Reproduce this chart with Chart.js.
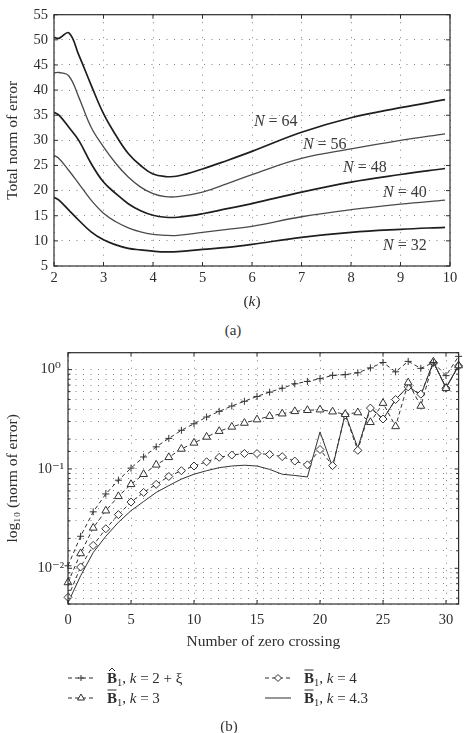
<!DOCTYPE html>
<html>
<head>
<meta charset="utf-8">
<script src="https://cdn.jsdelivr.net/npm/chart.js@4.4.1/dist/chart.umd.min.js"></script>
<style>
  html, body { margin: 0; padding: 0; background: #fff; }
  #page { position: relative; width: 465px; height: 733px; font-family: 'Liberation Serif', 'DejaVu Serif', serif; color: #333; }
  .box { position: absolute; left: 0; width: 465px; }
  .cap { position: absolute; font-size: 15px; line-height: 18px; transform: translateX(-50%); }
</style>
</head>
<body>
<div id="page">
  <div class="box" style="top:0;height:311px"><canvas id="chartA"></canvas></div>
  <div class="cap" style="left:233px;top:321px">(a)</div>
  <div class="box" style="top:340px;height:380px"><canvas id="chartB"></canvas></div>
  <div class="cap" style="left:229px;top:717px">(b)</div>
</div>
<script>
// ---- (a) total norm of error vs k, one curve per N ----
const kValues = [2, 2.1, 2.3, 2.5, 2.75, 3, 3.25, 3.5, 3.75, 4, 4.25, 4.5, 5, 5.5, 6, 7, 8, 9, 9.9];
const errN64 = [50.5, 50.3, 51.4, 47.0, 41.0, 35.3, 31.0, 27.4, 25.0, 23.3, 22.8, 22.9, 24.3, 26.0, 27.8, 31.6, 34.5, 36.5, 38.1];
const errN56 = [43.4, 43.5, 42.8, 38.6, 32.6, 28.7, 25.4, 22.7, 20.7, 19.4, 18.8, 18.8, 19.7, 21.4, 23.2, 26.4, 28.3, 30.0, 31.3];
const errN48 = [35.6, 35.0, 32.6, 30.0, 25.4, 21.7, 19.4, 17.4, 16.0, 15.1, 14.7, 14.7, 15.4, 16.4, 17.4, 19.7, 21.7, 23.2, 24.4];
const errN40 = [27.0, 26.4, 24.0, 21.4, 18.1, 15.5, 13.8, 12.6, 11.8, 11.3, 11.1, 11.1, 11.7, 12.3, 12.9, 14.8, 16.2, 17.3, 18.1];
const errN32 = [18.7, 18.1, 16.1, 14.1, 11.8, 10.2, 9.2, 8.5, 8.2, 7.95, 7.8, 7.85, 8.3, 8.7, 9.3, 10.7, 11.7, 12.3, 12.7];
const nLabels = ['N = 64', 'N = 56', 'N = 48', 'N = 40', 'N = 32'];
// where each N label sits, in data units
const labelK = [6.48, 7.47, 8.28, 9.09, 9.09];
const labelErr = [33.6, 29.2, 24.6, 19.5, 9.0];

// ---- (b) log10 norm of error vs number of zero crossings ----
const crossings = [0, 1, 2, 3, 4, 5, 6, 7, 8, 9, 10, 11, 12, 13, 14, 15, 16, 17, 18, 19, 20, 21, 22, 23, 24, 25, 26, 27, 28, 29, 30, 31];
const errHatK2xi = [0.0106, 0.021, 0.037, 0.056, 0.077, 0.102, 0.132, 0.167, 0.203, 0.245, 0.285, 0.333, 0.38, 0.43, 0.48, 0.537, 0.593, 0.65, 0.72, 0.76, 0.81, 0.875, 0.89, 0.93, 1.04, 1.18, 0.95, 1.21, 1.03, 1.18, 0.87, 1.36];
const errBarK3 = [0.0072, 0.0141, 0.0255, 0.038, 0.053, 0.070, 0.0885, 0.11, 0.131, 0.159, 0.183, 0.21, 0.24, 0.265, 0.29, 0.314, 0.34, 0.36, 0.38, 0.39, 0.395, 0.377, 0.355, 0.37, 0.295, 0.46, 0.268, 0.74, 0.43, 1.2, 0.65, 1.1];
const errBarK4 = [0.0051, 0.0103, 0.017, 0.025, 0.0347, 0.0464, 0.058, 0.070, 0.084, 0.096, 0.107, 0.118, 0.131, 0.138, 0.143, 0.143, 0.140, 0.133, 0.120, 0.11, 0.157, 0.108, 0.35, 0.154, 0.41, 0.318, 0.50, 0.67, 0.566, 1.18, 0.65, 1.09];
const errBarK43 = [0.0045, 0.0084, 0.0144, 0.021, 0.029, 0.038, 0.047, 0.058, 0.068, 0.079, 0.0885, 0.096, 0.103, 0.107, 0.109, 0.107, 0.099, 0.0885, 0.086, 0.083, 0.236, 0.104, 0.36, 0.163, 0.42, 0.316, 0.50, 0.68, 0.55, 1.2, 0.66, 1.1];
const legendK = ['2 + ξ', '3', '4', '4.3'];
const legendAccent = ['hat', 'bar', 'bar', 'bar'];
const yTickValues = [0.01, 0.1, 1];
const yTickText = ['10⁻²', '10⁻¹', '10⁰'];

const serif = "'Liberation Serif', 'DejaVu Serif', serif";
const ink = '#2d2d2d';
const dotGrid = { color: '#808080', lineWidth: 1, drawTicks: false };
const dotBorder = { display: false, dash: [1, 6.5] };
const tickFont = { family: serif, size: 14.5 };
const titleFont = { family: serif, size: 15.5 };

// box round the plot with short inward ticks, matlab style
const framePlugin = {
    id: 'frame',
    afterDatasetsDraw(chart) {
        const { ctx, chartArea: a, scales: { x, y } } = chart;
        ctx.save();
        ctx.setLineDash([]);
        ctx.strokeStyle = ink;
        ctx.lineWidth = 1.2;
        ctx.strokeRect(a.left, a.top, a.right - a.left, a.bottom - a.top);
        ctx.lineWidth = 1;
        ctx.beginPath();
        x.ticks.forEach(t => {
            const px = x.getPixelForValue(t.value);
            ctx.moveTo(px, a.bottom); ctx.lineTo(px, a.bottom - 4);
            ctx.moveTo(px, a.top); ctx.lineTo(px, a.top + 4);
        });
        y.ticks.forEach(t => {
            const py = y.getPixelForValue(t.value);
            const len = t.label === '' ? 2.5 : 4;
            ctx.moveTo(a.left, py); ctx.lineTo(a.left + len, py);
            ctx.moveTo(a.right, py); ctx.lineTo(a.right - len, py);
        });
        ctx.stroke();
        ctx.restore();
    }
};

const curveLabels = {
    id: 'curveLabels',
    afterDatasetsDraw(chart) {
        const { ctx, chartArea: a, scales: { x, y } } = chart;
        ctx.save();
        ctx.fillStyle = '#3a3a3a';
        ctx.textBaseline = 'middle';
        nLabels.forEach((txt, i) => {
            const cx = x.getPixelForValue(labelK[i]);
            const cy = y.getPixelForValue(labelErr[i]);
            const head = txt.slice(0, 1), tail = txt.slice(1);
            ctx.font = 'italic 16px ' + serif;
            const w1 = ctx.measureText(head).width;
            ctx.font = '16px ' + serif;
            const w2 = ctx.measureText(tail).width;
            const sx = cx - (w1 + w2) / 2;
            ctx.font = 'italic 16px ' + serif;
            ctx.fillText(head, sx, cy);
            ctx.font = '16px ' + serif;
            ctx.fillText(tail, sx + w1, cy);
        });
        // x axis title "(k)"
        ctx.fillStyle = ink;
        const parts = [['(', ''], ['k', 'italic '], [')', '']];
        let total = 0;
        parts.forEach(p => { ctx.font = p[1] + '15.5px ' + serif; total += ctx.measureText(p[0]).width; });
        let tx = (a.left + a.right) / 2 - total / 2;
        const ty = a.bottom + 36;
        parts.forEach(p => {
            ctx.font = p[1] + '15.5px ' + serif;
            ctx.fillText(p[0], tx, ty);
            tx += ctx.measureText(p[0]).width;
        });
        ctx.restore();
    }
};

const curvesA = [errN64, errN56, errN48, errN40, errN32];

new Chart(document.getElementById('chartA'), {
    type: 'line',
    data: {
        datasets: curvesA.map((vals, i) => ({
            label: nLabels[i],
            data: kValues.map((k, j) => ({ x: k, y: vals[j] })),
            borderColor: i % 2 === 0 ? '#1e1e1e' : '#4a4a4a',
            borderWidth: i % 2 === 0 ? 1.7 : 1.3,
            pointRadius: 0,
            tension: 0.4,
            fill: false
        }))
    },
    options: {
        responsive: true,
        maintainAspectRatio: false,
        animation: false,
        layout: { padding: { top: 14, right: 15, bottom: 0, left: 0 } },
        plugins: { legend: { display: false }, tooltip: { enabled: false } },
        scales: {
            x: {
                type: 'linear', min: 2, max: 10,
                ticks: { stepSize: 1, padding: 3.6, color: ink, font: tickFont },
                grid: dotGrid, border: dotBorder,
                afterFit: s => { s.height = 45; }
            },
            y: {
                type: 'linear', min: 5, max: 55,
                ticks: { stepSize: 5, padding: 6, color: ink, font: tickFont },
                grid: dotGrid, border: dotBorder,
                title: { display: true, text: 'Total norm of error', color: ink, font: titleFont, padding: { top: 4, bottom: 0 } },
                afterFit: s => { s.width = 54; }
            }
        }
    },
    plugins: [framePlugin, curveLabels]
});

// legend under plot (b), drawn by hand so the B can carry its accent
const legendSlots = [[68, 338], [68, 358], [265, 338], [265, 358]];
const legendPlugin = {
    id: 'bLegend',
    afterDraw(chart) {
        const ctx = chart.ctx;
        ctx.save();
        chart.data.datasets.forEach((ds, i) => {
            const [sx, cy] = legendSlots[i];
            ctx.strokeStyle = ink;
            ctx.fillStyle = ink;
            ctx.lineWidth = 1;
            ctx.setLineDash(ds.borderDash || []);
            ctx.beginPath();
            ctx.moveTo(sx, cy); ctx.lineTo(sx + 26, cy);
            ctx.stroke();
            ctx.setLineDash([]);
            if (ds.pointRadius > 0) {
                ctx.fillStyle = '#fff';
                Chart.helpers.drawPoint(ctx, { pointStyle: ds.pointStyle, radius: ds.pointRadius - 0.5, rotation: 0, borderWidth: 1 }, sx + 13, cy);
                ctx.fillStyle = ink;
            }
            let tx = sx + 39;
            const base = cy + 5;
            ctx.font = 'bold 15px ' + serif;
            ctx.fillText('B', tx, base);
            const wb = ctx.measureText('B').width;
            ctx.beginPath();
            if (legendAccent[i] === 'hat') {
                ctx.moveTo(tx + 2, base - 12); ctx.lineTo(tx + wb / 2, base - 15); ctx.lineTo(tx + wb - 2, base - 12);
            } else {
                ctx.moveTo(tx + 0.5, base - 13); ctx.lineTo(tx + wb - 0.5, base - 13);
            }
            ctx.stroke();
            tx += wb;
            ctx.font = '10.5px ' + serif;
            ctx.fillText('1', tx, base + 3);
            tx += ctx.measureText('1').width;
            ctx.font = '15px ' + serif;
            ctx.fillText(', ', tx, base);
            tx += ctx.measureText(', ').width;
            ctx.font = 'italic 15px ' + serif;
            ctx.fillText('k', tx, base);
            tx += ctx.measureText('k').width;
            ctx.font = '15px ' + serif;
            ctx.fillText(' = ' + legendK[i], tx, base);
        });
        ctx.restore();
    }
};

const seriesB = [errHatK2xi, errBarK3, errBarK4, errBarK43];
const markB = ['cross', 'triangle', 'rectRot', 'circle'];
const radiusB = [3.5, 4.5, 4, 0];
const dashB = [[4, 3], [4, 3], [4, 3], []];

new Chart(document.getElementById('chartB'), {
    type: 'line',
    data: {
        datasets: seriesB.map((vals, i) => ({
            label: (legendAccent[i] === 'hat' ? 'B\u0302' : 'B\u0304') + '₁, k = ' + legendK[i],
            data: crossings.map((c, j) => ({ x: c, y: vals[j] })),
            borderColor: '#333',
            borderWidth: 1,
            borderDash: dashB[i],
            pointStyle: markB[i],
            pointRadius: radiusB[i],
            pointBorderColor: '#333',
            pointBackgroundColor: '#fff',
            pointBorderWidth: 1,
            tension: 0,
            clip: 6,
            fill: false
        }))
    },
    options: {
        responsive: true,
        maintainAspectRatio: false,
        animation: false,
        layout: { padding: { top: 12, right: 6.4, bottom: 69, left: 0 } },
        plugins: { legend: { display: false }, tooltip: { enabled: false } },
        scales: {
            x: {
                type: 'linear', min: 0, max: 31,
                ticks: { stepSize: 5, includeBounds: false, padding: 7.3, color: ink, font: tickFont },
                grid: dotGrid, border: dotBorder,
                title: { display: true, text: 'Number of zero crossing', color: ink, font: titleFont, padding: { top: 0, bottom: 0 } },
                afterFit: s => { s.height = 47; }
            },
            y: {
                type: 'logarithmic', min: 0.00437, max: 1.48,
                ticks: {
                    autoSkip: false, crossAlign: 'center', padding: 4, color: ink, font: tickFont,
                    callback: v => {
                        const idx = yTickValues.findIndex(t => Math.abs(t - v) < t * 1e-6);
                        return idx >= 0 ? yTickText[idx] : '';
                    }
                },
                grid: dotGrid, border: dotBorder,
                title: { display: true, text: 'log₁₀ (norm of error)', color: ink, font: titleFont, padding: { top: 4, bottom: 0 } },
                afterFit: s => { s.width = 68; }
            }
        }
    },
    plugins: [framePlugin, legendPlugin]
});
</script>
</body>
</html>
